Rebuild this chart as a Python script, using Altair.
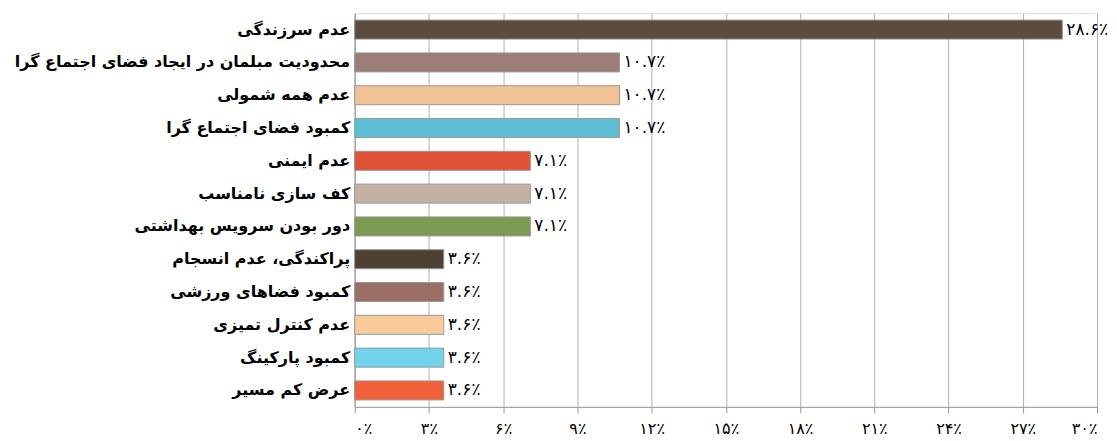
import altair as alt
import pandas as pd

categories = [
    "عدم سرزندگی",
    "محدودیت مبلمان در ایجاد فضای اجتماع گرا",
    "عدم همه شمولی",
    "کمبود فضای اجتماع گرا",
    "عدم ایمنی",
    "کف سازی نامناسب",
    "دور بودن سرویس بهداشتی",
    "پراکندگی، عدم انسجام",
    "کمبود فضاهای ورزشی",
    "عدم کنترل تمیزی",
    "کمبود پارکینگ",
    "عرض کم مسیر",
]
values = [28.6, 10.7, 10.7, 10.7, 7.1, 7.1, 7.1, 3.6, 3.6, 3.6, 3.6, 3.6]
colors = ["#5c4b3f", "#9d7d77", "#f1c394", "#5dbdd5", "#df5236", "#c5b1a3",
          "#7b9b52", "#4f4034", "#9b6f64", "#f8ca9c", "#72d4ea", "#f2603a"]
tick_values = [0, 3, 6, 9, 12, 15, 18, 21, 24, 27, 30]
tick_labels = ["۰٪", "۳٪", "۶٪", "۹٪", "۱۲٪", "۱۵٪", "۱۸٪", "۲۱٪", "۲۴٪", "۲۷٪", "۳۰٪"]

fa = str.maketrans("0123456789", "۰۱۲۳۴۵۶۷۸۹")
labels = [f"{v}".translate(fa) + "٪" for v in values]

df = pd.DataFrame({"cat": categories, "val": values, "color": colors, "label": labels})

label_expr = "[" + ",".join(f"'{t}'" for t in tick_labels) + "][round(datum.value/3)]"

y = alt.Y("cat:N", sort=None, title=None,
          scale=alt.Scale(paddingInner=0.42, paddingOuter=0.21),
          axis=alt.Axis(labelFont="DejaVu Sans", labelFontSize=16, labelFontWeight="bold",
                        labelColor="#000", labelPadding=5, ticks=False,
                        minExtent=340, maxExtent=340, labelLimit=340,
                        domainColor="#999", grid=False))
x = alt.X("val:Q", title=None,
          scale=alt.Scale(domain=[0, 30], nice=False),
          axis=alt.Axis(values=tick_values, labelExpr=label_expr,
                        labelFont="DejaVu Sans", labelFontSize=16, labelColor="#000",
                        labelPadding=8, tickSize=6, tickColor="#999", domainColor="#999",
                        gridColor="#b0b0b0", grid=True))

bars = alt.Chart(df).mark_bar(stroke="#999", strokeWidth=1).encode(
    x=x, y=y, color=alt.Color("color:N", scale=None))
text = alt.Chart(df).mark_text(align="left", dx=4, font="DejaVu Sans", fontSize=17,
                               color="#000").encode(
    x="val:Q", y=alt.Y("cat:N", sort=None), text="label:N")

chart = (bars + text).properties(
    width=743, height=394,
    padding={"left": 5, "top": 5, "right": 0, "bottom": 5},
).configure_view(stroke=None).configure(background="#ffffff")

chart.save("out.html", embed_options={"renderer": "svg", "actions": False})
